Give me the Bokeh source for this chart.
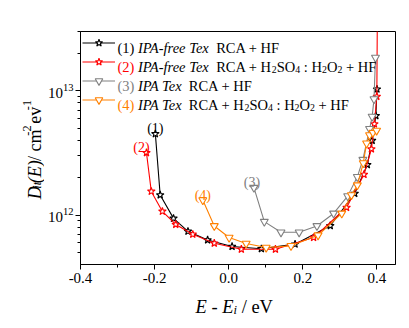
import math
from bokeh.plotting import figure
from bokeh.layouts import row, column
from bokeh.models import (Label, Legend, LegendItem, FixedTicker, PrintfTickFormatter,
                          LogTickFormatter, Range1d, ColumnDataSource)
from bokeh.core.properties import value
from bokeh.embed import file_html
from bokeh.resources import INLINE

# ---------------- data ----------------
s1_x = [-0.198, -0.185, -0.149, -0.110, -0.057, 0.009, 0.088, 0.179, 0.274, 0.340, 0.374, 0.387, 0.397, 0.400]
s1_y = [4.5e12, 1.45e12, 9.4e11, 7.4e11, 6.3e11, 5.58e11, 5.35e11, 5.83e11, 8.2e11, 1.49e12, 2.54e12, 3.98e12, 6.3e12, 1.03e13]

s2_x = [-0.222, -0.209, -0.179, -0.143, -0.097, -0.039, 0.034, 0.126, 0.229, 0.318, 0.365, 0.385, 0.393, 0.3996, 0.401]
s2_y = [3.17e12, 1.55e12, 1.07e12, 8.4e11, 7.0e11, 5.93e11, 5.31e11, 5.31e11, 6.59e11, 1.15e12, 2.12e12, 3.4e12, 5.4e12, 9.0e12, 4.0e13]

s3_x = [0.068, 0.096, 0.141, 0.190, 0.238, 0.283, 0.321, 0.347, 0.362, 0.380, 0.387, 0.392, 0.396]
s3_y = [1.66e12, 8.85e11, 7.27e11, 7.27e11, 8.17e11, 1.03e12, 1.42e12, 2.03e12, 2.79e12, 4.94e12, 6.2e12, 8.58e12, 1.85e13]

s4_x = [-0.070, -0.039, 0.001, 0.047, 0.101, 0.168, 0.241, 0.305, 0.331, 0.347, 0.363, 0.372, 0.380, 0.389, 0.399]
s4_y = [1.32e12, 8.17e11, 6.59e11, 5.9e11, 5.48e11, 5.65e11, 6.88e11, 1.03e12, 1.45e12, 1.74e12, 2.62e12, 3.78e12, 4.4e12, 4.6e12, 4.79e12]

x_ticks = [-0.4, -0.2, 0.0, 0.2, 0.4]
x_minor = [-0.3, -0.1, 0.1, 0.3]
y_ticks = [1e12, 1e13]
y_minor = [5e11, 6e11, 7e11, 8e11, 9e11, 2e12, 3e12, 4e12, 5e12, 6e12, 7e12, 8e12, 9e12, 2e13, 3e13]

tags = ["(1)", "(2)", "(3)", "(4)"]
colors = ["#000000", "#ff0000", "#808080", "#ff8000"]
markers = ["star", "star", "inverted_triangle", "inverted_triangle"]

FONT = "Liberation Serif"
K = "#000000"

W, H = 409, 328
LEFT_W = 44          # strip holding the y title
BOT_H = 39           # strip holding the x title
MAIN_W, MAIN_H = W - LEFT_W, H - BOT_H
FRAME_BOTTOM = 264   # canvas row of the x axis
FRAME_TOP = 31

p = figure(width=MAIN_W, height=MAIN_H, y_axis_type="log", output_backend="svg",
           toolbar_location=None, x_range=Range1d(-0.4, 0.45), y_range=Range1d(4e11, 3e13),
           min_border_left=75 - LEFT_W, min_border_right=14, min_border_top=FRAME_TOP,
           min_border_bottom=MAIN_H - FRAME_BOTTOM)
p.grid.visible = False
p.outline_line_color = K
p.outline_line_width = 1

for ax in (p.xaxis[0], p.yaxis[0]):
    ax.axis_line_color = K
    ax.axis_line_width = 1
    ax.major_tick_line_color = K
    ax.minor_tick_line_color = K
    ax.major_tick_out = 5
    ax.major_tick_in = 0
    ax.minor_tick_out = 3
    ax.minor_tick_in = 0
    ax.major_label_text_font = FONT
    ax.major_label_text_font_size = "15px"
    ax.major_label_text_color = K
p.xaxis[0].major_label_standoff = 3
p.yaxis[0].major_label_standoff = 2

p.xaxis[0].ticker = FixedTicker(ticks=x_ticks, minor_ticks=x_minor)
p.xaxis[0].formatter = PrintfTickFormatter(format="%.1f")
p.yaxis[0].ticker = FixedTicker(ticks=y_ticks, minor_ticks=y_minor)
p.yaxis[0].formatter = LogTickFormatter()

series = [(s1_x, s1_y), (s2_x, s2_y), (s3_x, s3_y), (s4_x, s4_y)]
renderers = []
for (xs, ys), c, m in zip(series, colors, markers):
    lr = p.line(xs, ys, line_color=c, line_width=1.1)
    sr = p.scatter(xs, ys, marker=m, size=8, line_color=c, fill_color="white", line_width=1.1)
    renderers.append((lr, sr))

legend = Legend(items=[LegendItem(label=" ", renderers=list(r)) for r in renderers],
                location="top_left", margin=0, padding=2, spacing=0,
                glyph_width=33, glyph_height=19, label_height=19, label_width=1,
                label_text_font_size="1px", border_line_alpha=0, background_fill_alpha=0)
p.add_layout(legend)

# ---------------- rich text helper ----------------
REG = {' ': 250, '(': 333, ')': 333, '0': 500, '1': 500, '2': 500, '3': 500, '4': 500,
       'R': 667, 'C': 667, 'A': 722, '+': 564, 'H': 722, 'F': 556, 'S': 556, 'O': 722,
       ':': 278, '-': 333, '/': 278, 'e': 444, 'V': 722, 'c': 444, 'm': 778, 'v': 500, '.': 250}
ITA = {' ': 250, 'I': 333, 'P': 611, 'A': 611, '-': 333, 'f': 278, 'r': 389, 'e': 444,
       'T': 556, 'x': 444, 'E': 611, 'D': 722, 'i': 278, 't': 278, '(': 333, ')': 333}


def width(s, italic, fs):
    tab = ITA if italic else REG
    return sum(tab.get(ch, 500) for ch in s) * fs / 1000.0


def layout_pieces(pieces, size, sub=0.18):
    """Return (text, color, style, font size, along-offset, across-offset) for each piece."""
    out = []
    pos = 0.0
    for text, color, italic, kind in pieces:
        fs = size * 0.68 if kind in ("sub", "sup") else size
        d = -sub * size if kind == "sub" else (0.42 * size if kind == "sup" else 0.0)
        lead = len(text) - len(text.lstrip(" "))
        core = text.strip(" ")
        start = pos + width(" " * lead, italic, fs)
        if core:
            out.append((core, color, "italic" if italic else "normal", fs, start, d))
        pos += width(text, italic, fs)
    return out


def place(fig, pieces, x0, y0, size):
    for core, color, style, fs, start, d in layout_pieces(pieces, size):
        fig.add_layout(Label(x=x0 + start, y=y0 + d, x_units="screen", y_units="screen",
                             text=core, text_font=FONT, text_font_size=f"{fs:.1f}px",
                             text_font_style=style, text_color=color,
                             text_align="left", text_baseline="alphabetic"))


leg_rows = [
    [(tags[0] + " ", colors[0], False, "n"), ("IPA-free Tex", K, True, "n"), (" RCA + HF", K, False, "n")],
    [(tags[1] + " ", colors[1], False, "n"), ("IPA-free Tex", K, True, "n"), (" RCA + H", K, False, "n"),
     ("2", K, False, "sub"), ("SO", K, False, "n"), ("4", K, False, "sub"), (" : H", K, False, "n"),
     ("2", K, False, "sub"), ("O", K, False, "n"), ("2", K, False, "sub"), (" + HF", K, False, "n")],
    [(tags[2] + " ", colors[2], False, "n"), ("IPA Tex", K, True, "n"), (" RCA + HF", K, False, "n")],
    [(tags[3] + " ", colors[3], False, "n"), ("IPA Tex", K, True, "n"), (" RCA + H", K, False, "n"),
     ("2", K, False, "sub"), ("SO", K, False, "n"), ("4", K, False, "sub"), (" : H", K, False, "n"),
     ("2", K, False, "sub"), ("O", K, False, "n"), ("2", K, False, "sub"), (" + HF", K, False, "n")],
]
frame_h = FRAME_BOTTOM - FRAME_TOP
for i, row_pieces in enumerate(leg_rows):
    center = 2 + 9.5 + 19 * i          # distance from the frame top
    place(p, row_pieces, 37, frame_h - center - 5, 14.5)

# curve tags
offs = [(0, 5), (-5, 5), (-2, 5), (0, 5)]
for (xs, ys), c, t, (dx, dy) in zip(series, colors, tags, offs):
    p.add_layout(Label(x=xs[0], y=ys[0], text=t, x_offset=dx, y_offset=dy, text_font=FONT,
                       text_font_size="14px", text_color=c, text_align="center",
                       text_baseline="alphabetic"))


# ---------------- title strips (text glyphs, pixel ranges) ----------------
def strip(w, h):
    f = figure(width=w, height=h, x_range=Range1d(0, w), y_range=Range1d(0, h),
               output_backend="svg", toolbar_location=None,
               x_axis_location=None, y_axis_location=None, min_border=0)
    f.grid.visible = False
    f.outline_line_color = None
    return f


def glyph_text(fig, pieces, x0, y0, size, vertical=False, sub=0.18):
    cols = dict(x=[], y=[], text=[], color=[], style=[], fs=[])
    for core, color, style, fs, start, d in layout_pieces(pieces, size, sub):
        if vertical:
            cols["x"].append(x0 - d)
            cols["y"].append(y0 + start)
        else:
            cols["x"].append(x0 + start)
            cols["y"].append(y0 + d)
        cols["text"].append(core)
        cols["color"].append(color)
        cols["style"].append(style)
        cols["fs"].append(f"{fs:.1f}px")
    src = ColumnDataSource(cols)
    fig.text(x="x", y="y", text="text", source=src, text_color="color",
             text_font_style="style", text_font_size="fs", text_font=value(FONT),
             angle=math.pi / 2 if vertical else 0.0,
             text_align="left", text_baseline="alphabetic")


left = strip(LEFT_W, MAIN_H)
yl = [("D", K, True, "n"), ("it", K, True, "sub"), ("(E)", K, True, "n"), (" / cm", K, False, "n"),
      ("-2", K, False, "sup"), (" ev", K, False, "n"), ("-1", K, False, "sup")]
glyph_text(left, yl, 34, MAIN_H - 208, 18, vertical=True, sub=0.14)

bottom = strip(W, BOT_H)
xl = [("E", K, True, "n"), (" - ", K, False, "n"), ("E", K, True, "n"), ("i", K, True, "sub"),
      (" / eV", K, False, "n")]
glyph_text(bottom, xl, 195, BOT_H - (306 - MAIN_H), 18.5)

layout = column(row(left, p, spacing=0), bottom, spacing=0)
open("out.html", "w").write(file_html(layout, INLINE))
